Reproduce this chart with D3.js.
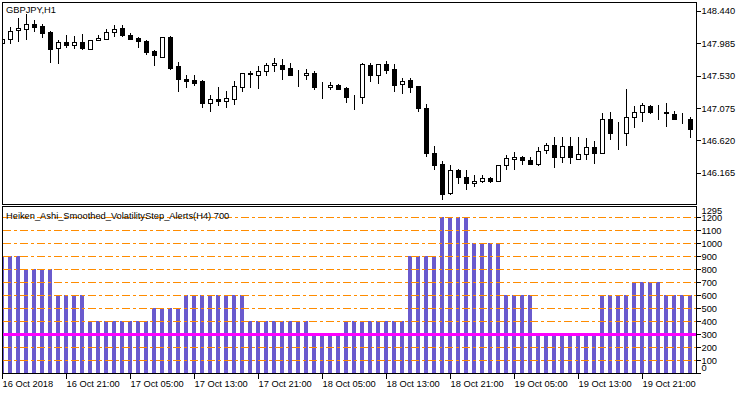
<!DOCTYPE html>
<html><head><meta charset="utf-8">
<script src="https://cdn.jsdelivr.net/npm/d3@7"></script>
<style>
body{margin:0;background:#fff}
svg{display:block}
text{font-family:"Liberation Sans",Arial,sans-serif;font-size:9.3px;fill:#000}
</style>
</head><body>
<svg id="chart" width="750" height="394"></svg>
<script>
const symbolTitle = "GBPJPY,H1";
const indicatorTitle = "Heiken_Ashi_Smoothed_VolatilityStep_Alerts(H4) 700";

const opens = [147.986,148.042,148.173,148.191,148.257,148.229,148.145,147.920,148.004,147.962,
148.004,147.910,148.032,148.050,148.145,148.201,148.107,148.060,148.014,147.882,
147.797,148.079,147.666,147.488,147.469,147.451,147.150,147.206,147.170,147.206,
147.367,147.572,147.544,147.592,147.676,147.685,147.638,147.536,147.536,147.572,
147.367,147.367,147.403,147.357,147.244,147.234,147.685,147.544,147.695,147.628,
147.413,147.469,147.385,147.075,146.447,146.288,145.875,146.203,146.100,146.016,
146.053,146.091,146.053,146.269,146.354,146.382,146.344,146.288,146.485,146.559,
146.390,146.541,146.362,146.428,146.523,146.447,146.916,146.738,146.728,146.945,
147.019,147.104,147.029,147.019,146.991,146.945,146.925];

const highs = [148.074,148.211,148.338,148.398,148.314,148.257,148.159,148.032,148.098,148.088,
148.117,148.032,148.107,148.191,148.247,148.247,148.135,148.070,148.032,147.892,
148.079,148.088,147.723,147.536,147.536,147.469,147.263,147.367,147.319,147.451,
147.572,147.600,147.666,147.713,147.779,147.769,147.713,147.610,147.620,147.600,
147.441,147.441,147.413,147.375,147.263,147.713,147.713,147.695,147.741,147.695,
147.498,147.498,147.390,147.132,146.541,146.326,146.269,146.222,146.203,146.129,
146.129,146.105,146.269,146.410,146.456,146.400,146.382,146.523,146.579,146.663,
146.663,146.663,146.663,146.653,146.615,147.001,147.019,146.878,147.339,147.104,
147.142,147.122,147.118,147.150,147.029,147.001,146.953];

const lows = [147.962,147.986,148.022,148.042,148.163,148.079,147.723,147.704,147.938,147.915,
147.910,147.910,148.032,148.042,148.088,148.088,148.042,147.929,147.835,147.685,
147.797,147.628,147.310,147.367,147.395,147.094,147.037,147.122,147.085,147.132,
147.319,147.375,147.357,147.544,147.600,147.488,147.536,147.385,147.488,147.339,
147.216,147.347,147.339,147.160,147.066,147.150,147.460,147.431,147.572,147.319,
147.291,147.301,147.029,146.400,146.222,145.799,145.870,146.024,145.940,145.978,
146.034,146.034,146.048,146.222,146.222,146.288,146.281,146.269,146.438,146.250,
146.316,146.297,146.362,146.362,146.306,146.440,146.635,146.503,146.551,146.812,
146.897,147.001,146.917,146.822,146.925,146.860,146.663];

const closes = [148.042,148.163,148.201,148.257,148.211,148.135,147.910,148.004,147.958,148.000,
147.915,148.032,148.060,148.145,148.191,148.098,148.050,148.014,147.863,147.817,
148.079,147.638,147.479,147.460,147.431,147.150,147.206,147.170,147.216,147.385,
147.564,147.554,147.600,147.676,147.713,147.628,147.536,147.538,147.572,147.367,
147.369,147.395,147.347,147.234,147.242,147.695,147.544,147.695,147.610,147.403,
147.460,147.375,147.075,146.438,146.278,145.866,146.203,146.100,146.024,146.053,
146.091,146.053,146.269,146.372,146.390,146.344,146.288,146.475,146.559,146.390,
146.541,146.382,146.428,146.523,146.447,146.916,146.728,146.740,146.945,147.019,
147.114,147.019,147.031,147.001,146.925,146.947,146.784];

const volatilityStep = [900,900,900,800,800,800,800,600,600,600,
600,400,400,400,400,400,400,400,400,500,
500,500,500,600,600,600,600,600,600,600,
600,400,400,400,400,400,400,400,400,300,
300,300,300,400,400,400,400,400,400,400,
400,900,900,900,900,1200,1200,1200,1200,1000,
1000,1000,1000,600,600,600,600,300,300,300,
300,300,300,300,300,600,600,600,600,700,
700,700,700,600,600,600,600];

const priceTicks = [148.440,147.985,147.530,147.075,146.620,146.165];
const volTicks = [1295,1200,1100,1000,900,800,700,600,500,400,300,200,100,0];
const levelValues = [100,200,300,400,500,600,700,800,900,1000,1100,1200];
const signalLevel = 300;
const timeTickIndex = [0,8,16,24,32,40,48,56,64,72,80];
const timeLabels = ["16 Oct 2018","16 Oct 21:00","17 Oct 05:00","17 Oct 13:00","17 Oct 21:00",
"18 Oct 05:00","18 Oct 13:00","18 Oct 21:00","19 Oct 05:00","19 Oct 13:00","19 Oct 21:00"];

const svg = d3.select("#chart");
const L = 3, R = 696;
const top1 = 3, bot1 = 204, top2 = 207, bot2 = 373;
const n = opens.length;

const x = d3.scaleLinear().domain([0, n - 1]).range([2, 2 + 8 * (n - 1)]);
const yP = d3.scaleLinear().domain([146.165, 148.44]).range([172.7, 11]);
const yV = d3.scaleLinear().domain([0, 1295]).range([373.3, 205]);

const defs = svg.append("defs");
defs.append("clipPath").attr("id","c1").append("rect").attr("x",L).attr("y",top1).attr("width",R-L).attr("height",bot1-top1);
defs.append("clipPath").attr("id","c2").append("rect").attr("x",L).attr("y",top2).attr("width",R-L).attr("height",bot2-top2);

// ---------- price panel ----------
const g1 = svg.append("g").attr("clip-path","url(#c1)").attr("shape-rendering","crispEdges");
const idx = d3.range(n);
g1.selectAll("line.wick").data(idx).join("line")
  .attr("x1", i => Math.round(x(i)) + 0.5).attr("x2", i => Math.round(x(i)) + 0.5)
  .attr("y1", i => Math.round(yP(highs[i]))).attr("y2", i => Math.round(yP(lows[i])) + 1)
  .attr("stroke", "#000").attr("stroke-width", 1);
g1.selectAll("rect.body").data(idx).join("rect")
  .attr("x", i => Math.round(x(i)) - 1.5)
  .attr("width", 4)
  .attr("y", i => Math.round(yP(Math.max(opens[i], closes[i]))) + 0.5)
  .attr("height", i => Math.max(0, Math.round(yP(Math.min(opens[i], closes[i]))) - Math.round(yP(Math.max(opens[i], closes[i])))))
  .attr("fill", i => closes[i] >= opens[i] ? "#fff" : "#000")
  .attr("stroke", "#000").attr("stroke-width", 1);

svg.append("text").attr("x", 6).attr("y", 13).text(symbolTitle);

// ---------- volatility panel ----------
const g2 = svg.append("g").attr("clip-path","url(#c2)").attr("shape-rendering","crispEdges");
g2.selectAll("rect.bar").data(idx).join("rect")
  .attr("x", i => Math.round(x(i)) - 2)
  .attr("width", 4)
  .attr("y", i => Math.round(yV(volatilityStep[i])))
  .attr("height", i => Math.round(yV(0)) - Math.round(yV(volatilityStep[i])) + 1)
  .attr("fill", "#6A5ACD");
g2.selectAll("line.level").data(levelValues).join("line")
  .attr("x1", L).attr("x2", R)
  .attr("y1", d => Math.round(yV(d)) + 0.5).attr("y2", d => Math.round(yV(d)) + 0.5)
  .attr("stroke", "#FF8C00").attr("stroke-width", 1)
  .attr("stroke-dasharray", "8,3,3,3");
g2.append("line")
  .attr("x1", L).attr("x2", R)
  .attr("y1", Math.round(yV(signalLevel)) + 0.5).attr("y2", Math.round(yV(signalLevel)) + 0.5)
  .attr("stroke", "#FF00FF").attr("stroke-width", 3);

svg.append("text").attr("x", 6).attr("y", 219).text(indicatorTitle);

// ---------- frames ----------
svg.append("rect").attr("x", L - 0.5).attr("y", top1 - 0.5).attr("width", R - L + 1).attr("height", bot1 - top1 + 1)
  .attr("fill","none").attr("stroke","#000").attr("shape-rendering","crispEdges");
svg.append("rect").attr("x", L - 0.5).attr("y", top2 - 0.5).attr("width", R - L + 1).attr("height", bot2 - top2 + 1)
  .attr("fill","none").attr("stroke","#000").attr("shape-rendering","crispEdges");

// ---------- right axes ----------
const ax1 = svg.append("g").attr("transform", `translate(${R + 0.5},0)`)
  .call(d3.axisRight(yP).tickValues(priceTicks).tickFormat(d3.format(".3f")).tickSize(4).tickPadding(1));
const ax2 = svg.append("g").attr("transform", `translate(${R + 0.5},0)`)
  .call(d3.axisRight(yV).tickValues(volTicks).tickFormat(d3.format("d")).tickSize(4).tickPadding(1));
[ax1, ax2].forEach(a => {
  a.select(".domain").remove();
  a.selectAll("line").attr("stroke","#000").attr("shape-rendering","crispEdges");
  a.selectAll("text").attr("fill","#000");
  a.attr("font-size", null).attr("font-family", null);
});
ax2.selectAll(".tick").filter(d => d === 1295).select("text").attr("dy","0.95em");
ax2.selectAll(".tick").filter(d => d === 0).select("text").attr("dy","-0.3em");
ax2.selectAll(".tick").filter(d => d === 1295).select("line").remove();

// ---------- time axis ----------
const xa = svg.append("g").attr("transform", `translate(0,${bot2 + 0.5})`)
  .call(d3.axisBottom(x).tickValues(timeTickIndex).tickFormat((d, k) => timeLabels[k]).tickSize(5).tickPadding(2));
xa.select(".domain").remove();
xa.attr("font-size", null).attr("font-family", null);
xa.selectAll("line").attr("stroke","#000").attr("shape-rendering","crispEdges");
xa.selectAll("text").attr("text-anchor","start").attr("x", 0).attr("fill","#000");
</script>
</body></html>
